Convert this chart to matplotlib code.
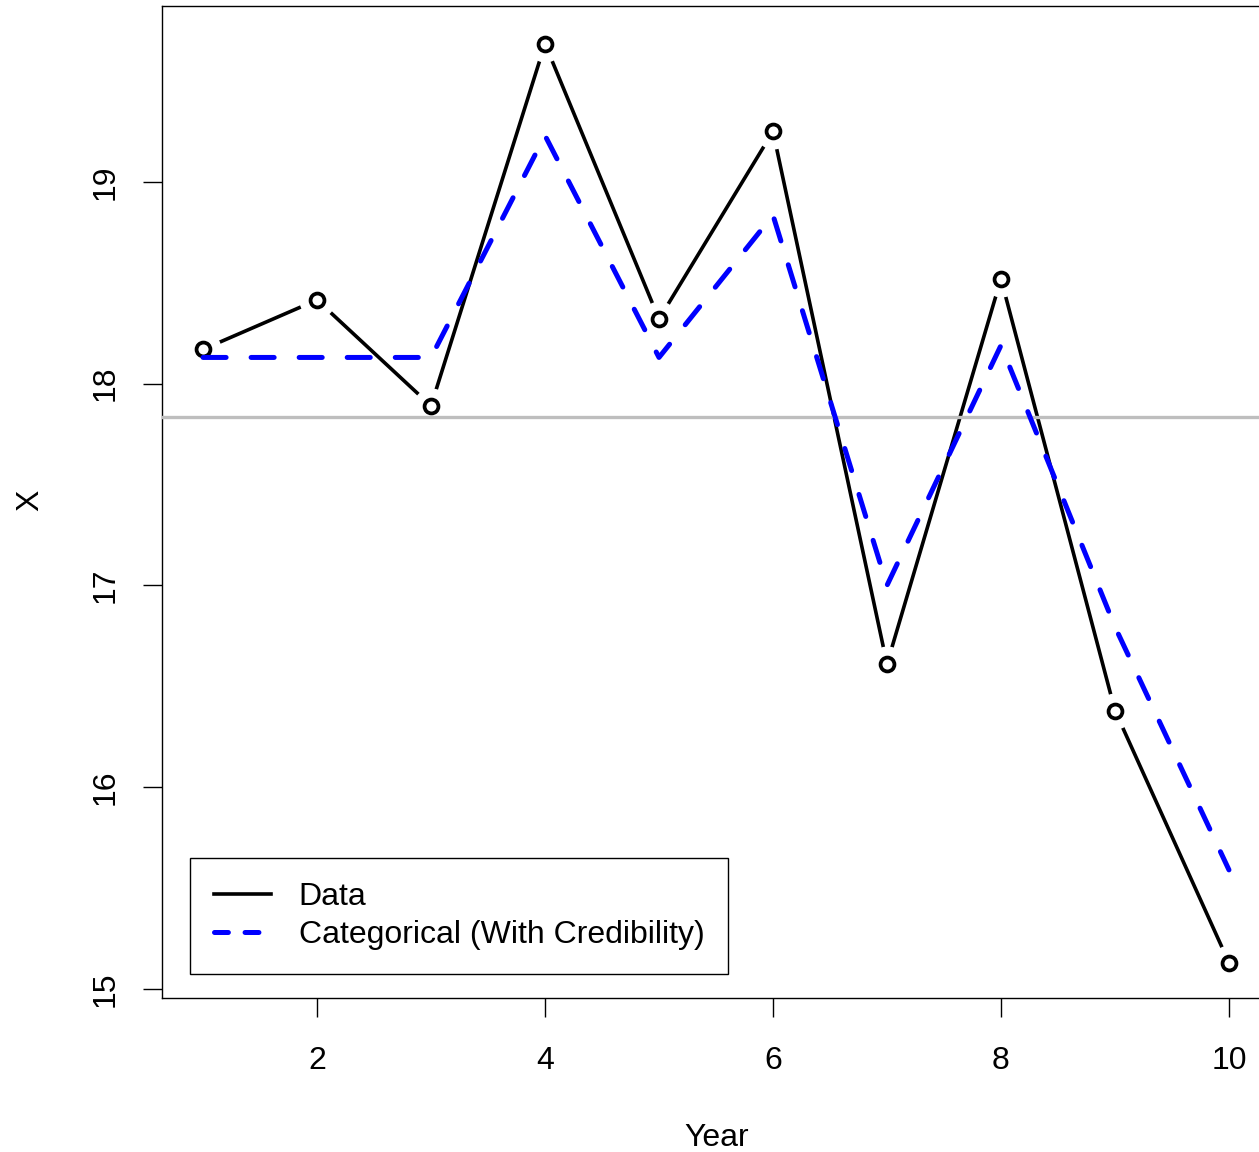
import matplotlib
matplotlib.use("Agg")
import matplotlib.pyplot as plt
from matplotlib.lines import Line2D

plt.rcParams['font.family'] = ['Liberation Sans', 'DejaVu Sans']
plt.rcParams['lines.scale_dashes'] = False

years = [1, 2, 3, 4, 5, 6, 7, 8, 9, 10]
data = [18.17, 18.415, 17.89, 19.685, 18.32, 19.25, 16.61, 18.52, 16.38, 15.13]
categorical = [18.13, 18.13, 18.13, 19.23, 18.13, 18.835, 17.0, 18.19, 16.795, 15.59]
mean_line = sum(data) / len(data)

fig = plt.figure(figsize=(12.59, 11.52), dpi=100)
ax = fig.add_axes([162 / 1259, 1 - 998 / 1152, 1108 / 1259, 992 / 1152])

# black line with gaps at the points (R type="b")
ax.plot(years, data, color='black', lw=2.6, zorder=2)
ax.plot(years, data, ls='none', marker='o', ms=26, mfc='white', mec='none', zorder=3)
ax.plot(years, data, ls='none', marker='o', ms=10, mfc='none', mec='black', mew=2.7, zorder=5)
ax.axhline(mean_line, color='#BEBEBE', lw=2.4, zorder=4)
ax.plot(years, categorical, color='blue', lw=3.6, dashes=(16.6, 18), dash_capstyle='round', zorder=6)

ax.set_xlim(0.64, 10.36)
ax.set_ylim(14.955, 19.872)
ax.set_xticks([2, 4, 6, 8, 10])
ax.set_yticks([15, 16, 17, 18, 19])
ax.tick_params(axis='both', direction='out', length=13.7, width=1.0, labelsize=23, color='black')
ax.tick_params(axis='x', pad=21)
ax.tick_params(axis='y', pad=16)
for lab in ax.get_yticklabels():
    lab.set_rotation(90)
    lab.set_verticalalignment('center')
for sp in ax.spines.values():
    sp.set_linewidth(1.0)

fig.text(717 / 1259, 1 - 1138 / 1152, 'Year', fontsize=23, ha='center', va='center')
fig.text(30 / 1259, 1 - 500 / 1152, 'X', fontsize=23, ha='center', va='center', rotation=90)

handles = [Line2D([], [], color='black', lw=2.6),
           Line2D([], [], color='blue', lw=3.6, dashes=(10, 12), dash_capstyle='round')]
leg = ax.legend(handles, ['Data', 'Categorical (With Credibility)'], loc='lower left',
                bbox_to_anchor=(0.0253, 0.0242), borderaxespad=0, fontsize=23,
                handlelength=1.8, handletextpad=0.85, borderpad=0.75, labelspacing=0.24,
                fancybox=False, edgecolor='black', framealpha=1)
leg.get_frame().set_linewidth(1.0)

fig.savefig('out.png', dpi=100)
